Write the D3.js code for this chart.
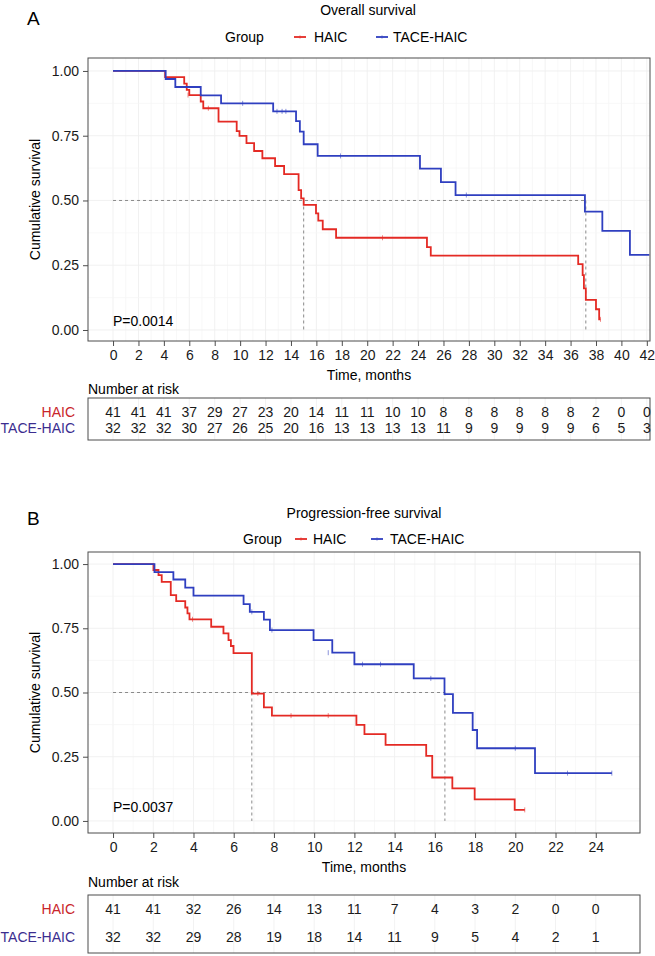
<!DOCTYPE html>
<html><head><meta charset="utf-8">
<script src="https://cdn.jsdelivr.net/npm/d3@7"></script>
<style>html,body{margin:0;padding:0;background:#fff;}svg{display:block;font-family:"Liberation Sans",Arial,sans-serif;}</style>
</head><body>
<script>
// ---------- DATA ----------
const groups = ["HAIC", "TACE-HAIC"];
const osTicks = [0,2,4,6,8,10,12,14,16,18,20,22,24,26,28,30,32,34,36,38,40,42];
const pfsTicks = [0,2,4,6,8,10,12,14,16,18,20,22,24];
const yTicks = [0, 0.25, 0.5, 0.75, 1];
const yTickLabels = ["0.00","0.25","0.50","0.75","1.00"];

const osRiskHAIC = [41,41,41,37,29,27,23,20,14,11,11,10,10,8,8,8,8,8,8,2,0,0];
const osRiskTACE = [32,32,32,30,27,26,25,20,16,13,13,13,13,11,9,9,9,9,9,6,5,3];
const pfsRiskHAIC = [41,41,32,26,14,13,11,7,4,3,2,0,0];
const pfsRiskTACE = [32,32,29,28,19,18,14,11,9,5,4,2,1];

// survival curves: [time, survival] step points
const osHAIC = [[0,1],[4.1,0.976],[5.6,0.951],[5.8,0.927],[6.0,0.907],[6.9,0.882],[7.1,0.856],[8.3,0.804],[9.73,0.768],[9.95,0.749],[10.5,0.721],[11.1,0.691],[11.75,0.663],[12.75,0.633],[13.46,0.602],[14.6,0.54],[14.8,0.508],[15.0,0.483],[15.97,0.45],[16.15,0.422],[16.5,0.389],[17.55,0.356],[24.7,0.32],[25.0,0.287],[36.6,0.254],[36.95,0.212],[37.05,0.161],[37.2,0.116],[38.0,0.08],[38.25,0.041],[38.35,0.041]];
const osTACE = [[0,1],[4.14,0.969],[4.9,0.938],[6.9,0.906],[8.5,0.875],[12.6,0.844],[14.4,0.806],[14.7,0.766],[15.0,0.717],[16.1,0.672],[24.15,0.623],[25.8,0.571],[26.95,0.521],[37.13,0.457],[38.5,0.383],[40.67,0.29],[42.2,0.29]];
const osHAICCensor = [[5.9,0.907],[7.5,0.856],[21.2,0.356],[38.35,0.041]];
const osTACECensor = [[10.2,0.875],[12.9,0.844],[13.3,0.844],[13.6,0.844],[17.9,0.672],[27.8,0.521]];

const pfsHAIC = [[0,1],[2.01,0.977],[2.26,0.957],[2.42,0.931],[2.87,0.879],[3.14,0.856],[3.59,0.831],[3.70,0.808],[3.80,0.785],[4.88,0.756],[5.49,0.730],[5.74,0.704],[5.86,0.681],[5.99,0.653],[6.9,0.496],[7.5,0.442],[7.9,0.41],[12.1,0.374],[12.5,0.338],[13.55,0.296],[15.57,0.253],[15.87,0.169],[16.87,0.127],[17.98,0.084],[19.97,0.043],[20.47,0.043]];
const pfsTACE = [[0,1],[2.06,0.969],[3.0,0.94],[3.59,0.908],[4.0,0.877],[6.49,0.844],[6.8,0.814],[7.5,0.784],[7.8,0.743],[9.97,0.704],[10.9,0.655],[12.0,0.61],[14.95,0.555],[16.48,0.494],[16.9,0.421],[17.88,0.354],[18.1,0.283],[20.98,0.186],[24.8,0.186]];
const pfsHAICCensor = [[3.95,0.785],[7.2,0.496],[8.85,0.41],[10.7,0.41],[20.47,0.043]];
const pfsTACECensor = [[6.9,0.814],[7.9,0.743],[10.7,0.655],[12.4,0.61],[13.3,0.61],[15.8,0.555],[20.0,0.283],[22.6,0.186],[24.8,0.186]];

const osMedians = [15.0, 37.2];
const pfsMedians = [6.9, 16.5];
const pValues = ["P=0.0014", "P=0.0037"];
const titles = ["Overall survival", "Progression-free survival"];

// ---------- STYLE ----------
const RED = "#e42a24", BLUE = "#2f3fc0";
const RED_LBL = "#c9252b", BLUE_LBL = "#3b2d8f";
const FONT = 14;

const svg = d3.select("body").append("svg").attr("width",655).attr("height",956);

function panel(o){
  const g = svg.append("g");
  const x = d3.scaleLinear().domain(o.xDomain).range([o.left,o.right]);
  const y = d3.scaleLinear().domain(o.yDomain).range([o.bottom,o.top]);

  // panel letter, title, legend
  g.append("text").attr("x",o.letterX).attr("y",o.letterY).attr("font-size",19).text(o.letter);
  g.append("text").attr("x",o.titleX).attr("y",o.titleY).attr("text-anchor","middle").attr("font-size",FONT).text(o.title);
  const lg = g.append("g").attr("font-size",FONT);
  lg.append("text").attr("x",o.leg.group).attr("y",o.legY).text("Group");
  [[o.leg.k1,RED,o.leg.t1,groups[0]],[o.leg.k2,BLUE,o.leg.t2,groups[1]]].forEach(([kx,c,tx,lab])=>{
    lg.append("line").attr("x1",kx).attr("x2",kx+12).attr("y1",o.legY-5).attr("y2",o.legY-5).attr("stroke",c).attr("stroke-width",1.8);
    lg.append("line").attr("x1",kx+6).attr("x2",kx+6).attr("y1",o.legY-7).attr("y2",o.legY-3).attr("stroke",c).attr("stroke-width",0.6).attr("opacity",0.6);
    lg.append("text").attr("x",tx).attr("y",o.legY).text(lab);
  });

  // grid
  const grid = g.append("g");
  const minorX = o.ticks.slice(0,-1).map((t,i)=>(t+o.ticks[i+1])/2);
  minorX.forEach(t=>grid.append("line").attr("x1",x(t)).attr("x2",x(t)).attr("y1",o.top).attr("y2",o.bottom).attr("stroke","#f5f5f5").attr("stroke-width",0.7));
  o.ticks.forEach(t=>grid.append("line").attr("x1",x(t)).attr("x2",x(t)).attr("y1",o.top).attr("y2",o.bottom).attr("stroke","#efefef").attr("stroke-width",0.9));
  [0.125,0.375,0.625,0.875].forEach(v=>grid.append("line").attr("x1",o.left).attr("x2",o.right).attr("y1",y(v)).attr("y2",y(v)).attr("stroke","#f5f5f5").attr("stroke-width",0.7));
  yTicks.forEach(v=>grid.append("line").attr("x1",o.left).attr("x2",o.right).attr("y1",y(v)).attr("y2",y(v)).attr("stroke","#efefef").attr("stroke-width",0.9));

  // median lines
  const dash = {"stroke":"#8a8a8a","stroke-width":1,"stroke-dasharray":"3,3","fill":"none"};
  const hl = g.append("line").attr("x1",x(0)).attr("x2",x(d3.max(o.medians))).attr("y1",y(0.5)).attr("y2",y(0.5));
  Object.entries(dash).forEach(([k,v])=>hl.attr(k,v));
  o.medians.forEach(m=>{
    const vl = g.append("line").attr("x1",x(m)).attr("x2",x(m)).attr("y1",y(0.5)).attr("y2",y(0));
    Object.entries(dash).forEach(([k,v])=>vl.attr(k,v));
  });

  // curves
  const line = d3.line().x(d=>x(d[0])).y(d=>y(d[1])).curve(d3.curveStepAfter);
  [[o.c1,RED,o.cens1],[o.c2,BLUE,o.cens2]].forEach(([data,c,cens])=>{
    g.append("path").datum(data).attr("d",line).attr("fill","none").attr("stroke",c).attr("stroke-width",1.8);
    g.selectAll(null).data(cens).enter().append("line")
      .attr("x1",d=>x(d[0])).attr("x2",d=>x(d[0])).attr("y1",d=>y(d[1])-2.5).attr("y2",d=>y(d[1])+2.5)
      .attr("stroke",c).attr("stroke-width",0.8).attr("opacity",0.7);
  });

  // box
  g.append("rect").attr("x",o.left).attr("y",o.top).attr("width",o.right-o.left).attr("height",o.bottom-o.top)
    .attr("fill","none").attr("stroke","#4d4d4d").attr("stroke-width",1);

  // axes
  const ya = g.append("g").attr("transform",`translate(${o.left},0)`)
    .call(d3.axisLeft(y).tickValues(yTicks).tickFormat((d,i)=>yTickLabels[i]).tickSize(5).tickPadding(4));
  ya.select(".domain").remove();
  ya.selectAll("line").attr("stroke","#4d4d4d");
  ya.selectAll("text").attr("font-size",FONT).attr("fill","#1a1a1a").attr("font-family","Liberation Sans, Arial, sans-serif");
  const xa = g.append("g").attr("transform",`translate(0,${o.bottom})`)
    .call(d3.axisBottom(x).tickValues(o.ticks).tickFormat(d3.format("d")).tickSize(5).tickPadding(4));
  xa.select(".domain").remove();
  xa.selectAll("line").attr("stroke","#4d4d4d");
  xa.selectAll("text").attr("font-size",FONT).attr("fill","#1a1a1a").attr("font-family","Liberation Sans, Arial, sans-serif");

  g.append("text").attr("transform",`translate(${o.yTitleX},${(o.top+o.bottom)/2}) rotate(-90)`)
    .attr("text-anchor","middle").attr("font-size",FONT).text("Cumulative survival");
  g.append("text").attr("x",(o.left+o.right)/2).attr("y",o.xTitleY).attr("text-anchor","middle").attr("font-size",FONT).text("Time, months");
  g.append("text").attr("x",x(0)).attr("y",o.pY).attr("font-size",FONT).text(o.p);

  // risk table
  g.append("text").attr("x",o.left).attr("y",o.nrY).attr("font-size",FONT).text("Number at risk");
  const tg = g.append("g");
  o.ticks.forEach(t=>tg.append("line").attr("x1",x(t)).attr("x2",x(t)).attr("y1",o.tTop).attr("y2",o.tBottom).attr("stroke","#f0f0f0").attr("stroke-width",0.9));
  tg.append("rect").attr("x",o.left).attr("y",o.tTop).attr("width",o.right-o.left).attr("height",o.tBottom-o.tTop)
    .attr("fill","none").attr("stroke","#4d4d4d").attr("stroke-width",1);
  [[o.r1,o.row1,RED_LBL,groups[0]],[o.r2,o.row2,BLUE_LBL,groups[1]]].forEach(([vals,ry,c,lab])=>{
    tg.append("text").attr("x",o.left-13).attr("y",ry).attr("text-anchor","end").attr("dominant-baseline","central").attr("font-size",FONT).attr("fill",c).text(lab);
    tg.selectAll(null).data(vals).enter().append("text")
      .attr("x",(d,i)=>x(o.ticks[i])).attr("y",ry).attr("text-anchor","middle").attr("dominant-baseline","central")
      .attr("font-size",FONT).attr("fill","#1a1a1a").text(d=>d);
  });
}

panel({letter:"A", letterX:27, letterY:25, title:titles[0], titleX:368, titleY:15,
  legY:42, leg:{group:225,k1:294,t1:314,k2:376,t2:393},
  xDomain:[-1.97,42.25], yDomain:[-0.0425,1.05], left:88, right:650, top:58, bottom:341,
  ticks:osTicks, c1:osHAIC, c2:osTACE, cens1:osHAICCensor, cens2:osTACECensor, medians:osMedians,
  yTitleX:40, xTitleY:380, p:pValues[0], pY:326, nrY:394,
  tTop:398, tBottom:440, row1:412, row2:428, r1:osRiskHAIC, r2:osRiskTACE});

panel({letter:"B", letterX:27, letterY:525, title:titles[1], titleX:364, titleY:518,
  legY:544, leg:{group:243,k1:295,t1:313,k2:371,t2:390},
  xDomain:[-1.245,26.2], yDomain:[-0.047,1.047], left:88, right:640, top:552, bottom:833,
  ticks:pfsTicks, c1:pfsHAIC, c2:pfsTACE, cens1:pfsHAICCensor, cens2:pfsTACECensor, medians:pfsMedians,
  yTitleX:40, xTitleY:872, p:pValues[1], pY:812, nrY:887,
  tTop:895, tBottom:953, row1:909, row2:937, r1:pfsRiskHAIC, r2:pfsRiskTACE});
</script>
</body></html>
